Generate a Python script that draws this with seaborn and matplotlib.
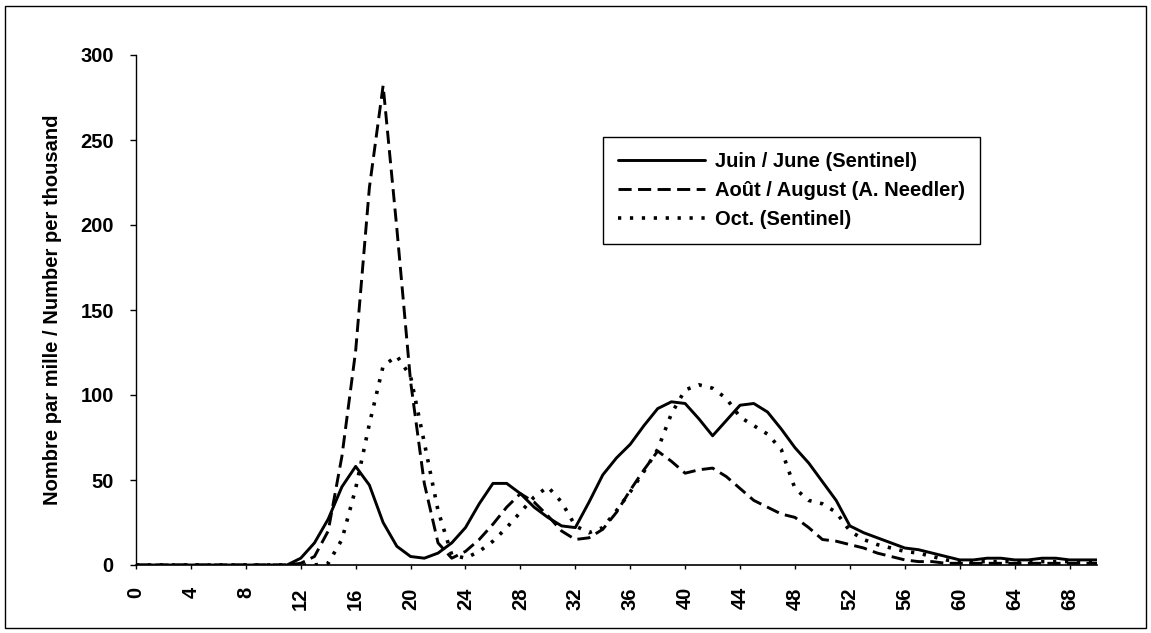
import matplotlib
matplotlib.use("Agg")
import matplotlib.pyplot as plt
import pandas as pd
import seaborn as sns

# ---------------- data ----------------
lengths = list(range(0, 71))

june = [0, 0, 0, 0, 0, 0, 0, 0, 0, 0, 0, 0,
        4, 13, 27, 46, 58, 47, 25, 11, 5, 4, 7, 13, 22, 36, 48, 48, 42, 34,
        28, 23, 22, 37, 53, 63, 71, 82, 92, 96, 95, 86, 76, 85, 94, 95, 90, 80, 69, 60,
        49, 38, 23, 19, 16, 13, 10, 9, 7, 5, 3, 3, 4, 4, 3, 3, 4, 4, 3, 3, 3]

august = [0, 0, 0, 0, 0, 0, 0, 0, 0, 0, 0, 0,
          1, 5, 20, 64, 126, 222, 282, 198, 108, 48, 13, 4, 8, 15, 24, 34, 42, 37,
          29, 20, 15, 16, 21, 31, 44, 56, 67, 61, 54, 56, 57, 52, 45, 38, 34, 30, 28, 22,
          15, 14, 12, 10, 7, 5, 3, 2, 2, 1, 1, 1, 1, 1, 1, 1, 1, 1, 1, 1, 1]

october = [0, 0, 0, 0, 0, 0, 0, 0, 0, 0, 0, 0, 0, 0,
           1, 15, 45, 83, 117, 123, 111, 72, 32, 6, 4, 8, 14, 22, 31, 40,
           46, 37, 23, 19, 22, 32, 43, 55, 68, 89, 103, 106, 104, 98, 87, 82, 77, 68, 45, 38,
           36, 31, 20, 15, 12, 10, 8, 7, 5, 3, 2, 2, 2, 2, 2, 2, 2, 2, 2, 2, 2]

series_labels = ["Juin / June (Sentinel)",
                 "Août / August (A. Needler)",
                 "Oct. (Sentinel)"]
x_ticks = list(range(0, 69, 4))
y_ticks = [0, 50, 100, 150, 200, 250, 300]
y_label = "Nombre par mille / Number per thousand"

assert len(june) == len(august) == len(october) == len(lengths)

# ---------------- style ----------------
sns.set_theme(style="ticks")
plt.rcParams['font.family'] = ['Liberation Sans', 'DejaVu Sans']
for key in ['axes.edgecolor', 'xtick.color', 'ytick.color', 'axes.labelcolor', 'text.color']:
    plt.rcParams[key] = 'black'

W, H = 1151, 633
fig = plt.figure(figsize=(W / 100, H / 100), dpi=100)
fig.patch.set_facecolor('white')
ax_l, ax_r, ax_t, ax_b = 136, 1097, 55, 565
ax = fig.add_axes([ax_l / W, 1 - ax_b / H, (ax_r - ax_l) / W, (ax_b - ax_t) / H])

line_specs = [
    dict(linestyle='-', linewidth=2.1),
    dict(linestyle=(0, (4.5, 2.2)), linewidth=2.1),
    dict(linestyle=(0, (0.9, 2.4)), linewidth=2.6),
]
for vals, lab, spec in zip([june, august, october], series_labels, line_specs):
    df = pd.DataFrame({"length": lengths, "value": vals})
    sns.lineplot(data=df, x="length", y="value", ax=ax, color='black',
                 label=lab, **spec)

ax.set_xlim(0, 70)
ax.set_ylim(0, 300)
ax.set_xticks(x_ticks)
ax.set_xticklabels([str(t) for t in x_ticks], rotation=90, fontweight='bold')
ax.set_yticks(y_ticks)
ax.set_yticklabels([str(t) for t in y_ticks], fontweight='bold')
ax.tick_params(axis='x', direction='out', length=3, width=1, pad=13, labelsize=14.5)
ax.tick_params(axis='y', direction='out', length=4, width=1, pad=12, labelsize=14.5)
ax.set_xlabel("")
ax.set_ylabel(y_label, fontsize=14.5, fontweight='bold')
ax.yaxis.set_label_coords(-0.077, 0.5)
sns.despine(ax=ax, top=True, right=True)
ax.spines['left'].set_linewidth(1)
ax.spines['bottom'].set_linewidth(1.2)
ax.grid(False)

leg = ax.legend(loc='upper left',
                bbox_to_anchor=((603 - ax_l) / (ax_r - ax_l), (ax_b - 137) / (ax_b - ax_t)),
                borderaxespad=0, frameon=True, fancybox=False, edgecolor='black',
                framealpha=1, borderpad=0.75, handlelength=4.3, handletextpad=0.5,
                labelspacing=0.5, prop={'size': 14.5, 'weight': 'bold'})
leg.get_frame().set_linewidth(1)

# outer border of the figure
fig.add_artist(plt.Rectangle((5 / W, 5 / H), 1141 / W, 622 / H, transform=fig.transFigure,
                             fill=False, lw=1, color='black'))

fig.savefig("out.png", dpi=100, facecolor='white')
